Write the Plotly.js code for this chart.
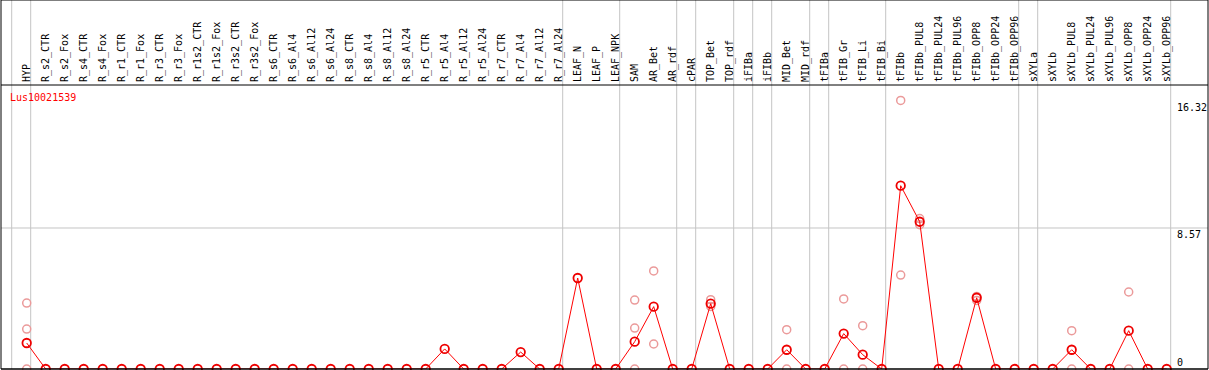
<!DOCTYPE html>
<html>
<head>
<meta charset="utf-8">
<script src="https://cdn.plot.ly/plotly-3.0.1.min.js"></script>
<style>html,body{margin:0;padding:0;background:#fff;}#chart{width:1209px;height:370px;}</style>
</head>
<body>
<div id="chart"></div>
<script>
// ---- data ----
const geneName = 'Lus10021539';
const categories = ['HYP','R_s2_CTR','R_s2_Fox','R_s4_CTR','R_s4_Fox','R_r1_CTR','R_r1_Fox','R_r3_CTR','R_r3_Fox',
  'R_r1s2_CTR','R_r1s2_Fox','R_r3s2_CTR','R_r3s2_Fox','R_s6_CTR','R_s6_Al4','R_s6_Al12','R_s6_Al24',
  'R_s8_CTR','R_s8_Al4','R_s8_Al12','R_s8_Al24','R_r5_CTR','R_r5_Al4','R_r5_Al12','R_r5_Al24',
  'R_r7_CTR','R_r7_Al4','R_r7_Al12','R_r7_Al24','LEAF_N','LEAF_P','LEAF_NPK','SAM','AR_Bet','AR_rdf',
  'cPAR','TOP_Bet','TOP_rdf','iFIBa','iFIBb','MID_Bet','MID_rdf','tFIBa','tFIB_Gr','tFIB_Li','tFIB_Bi',
  'tFIBb','tFIBb_PUL8','tFIBb_PUL24','tFIBb_PUL96','tFIBb_OPP8','tFIBb_OPP24','tFIBb_OPP96',
  'sXYLa','sXYLb','sXYLb_PUL8','sXYLb_PUL24','sXYLb_PUL96','sXYLb_OPP8','sXYLb_OPP24','sXYLb_OPP96'];
const meanValues = [1.58,
  0,0,0,0,0,0,0,0,0,0,0,0,0,0,0,0,0,0,0,0,0,1.22,0,0,0,1.03,0,0,
  5.53,0,0,
  1.66,3.79,0,
  0,
  3.97,0,
  0,0,
  1.17,0,
  0,
  2.15,0.87,0,
  11.14,8.95,0,0,4.33,0,0,
  0,
  0,1.17,0,0,2.33,0,0];
const replicateCats = ['HYP','HYP','HYP','SAM','SAM','SAM','AR_Bet','AR_Bet','TOP_Bet','TOP_Bet',
  'MID_Bet','MID_Bet','tFIB_Gr','tFIB_Gr','tFIB_Li','tFIB_Li','tFIBb','tFIBb',
  'tFIBb_PUL8','tFIBb_PUL8','tFIBb_OPP8','tFIBb_OPP8','sXYLb_PUL8','sXYLb_PUL8','sXYLb_OPP8','sXYLb_OPP8'];
const replicateValues = [4.01,2.43,0,4.19,2.49,0,5.96,1.52,4.21,3.80,
  2.39,0,4.26,0,2.63,0,16.32,5.71,
  9.14,8.77,4.41,4.17,2.33,0,4.68,0];
const groupSizes = [1,28,3,3,1,2,1,1,2,1,3,7,1,7];
const yTickVals = [0, 8.57, 16.32];
const yTickText = ['0', '8.57', '16.32'];

// ---- layout helpers ----
const W = 1209, H = 370, T = 85, B = 1, L = 1, R = 35;
const plotW = W - L - R, plotH = H - T - B;
const pxPerUnitX = 19, firstCatPx = 26.7;
const xMin = -(firstCatPx - L) / pxPerUnitX;
const xMax = xMin + plotW / pxPerUnitX;
const yMax = 17.26;
const topPaper = 1 + T / plotH;
const rightPaper = (1208 - L) / plotW;
const gray = '#c4c4c4';
const mono = 'DejaVu Sans Mono';
const catIndex = c => categories.indexOf(c);

const shapes = [];
// group separators
let acc = -1;
const seps = [acc];
groupSizes.forEach(s => { acc += s; seps.push(acc); });
seps.forEach(i => shapes.push({type:'line', xref:'x', yref:'paper', x0:i+0.21, x1:i+0.21, y0:0, y1:topPaper,
  line:{color:gray, width:1}, layer:'below'}));
// horizontal grid line at middle tick
shapes.push({type:'line', xref:'paper', yref:'y', x0:0, x1:rightPaper, y0:yTickVals[1], y1:yTickVals[1], line:{color:gray, width:1}, layer:'below'});
// frame
shapes.push({type:'line', xref:'paper', yref:'paper', x0:0, x1:0, y0:0, y1:topPaper, line:{color:'black', width:1}, layer:'above'});
shapes.push({type:'line', xref:'paper', yref:'paper', x0:rightPaper, x1:rightPaper, y0:0, y1:topPaper, line:{color:'black', width:1}, layer:'above'});
shapes.push({type:'line', xref:'paper', yref:'paper', x0:0, x1:rightPaper, y0:topPaper, y1:topPaper, line:{color:'black', width:1}, layer:'above'});
shapes.push({type:'line', xref:'paper', yref:'paper', x0:0, x1:rightPaper, y0:1, y1:1, line:{color:'black', width:1}, layer:'above'});
shapes.push({type:'line', xref:'paper', yref:'paper', x0:0, x1:rightPaper, y0:0, y1:0, line:{color:'black', width:1.5}, layer:'above'});

const traces = [
  {type:'scatter', mode:'markers', x:replicateCats.map(catIndex), y:replicateValues, cliponaxis:false,
   marker:{symbol:'circle-open', size:8, color:'#eb9a9a', line:{width:1.5, color:'#eb9a9a'}}, hoverinfo:'y'},
  {type:'scatter', mode:'lines+markers', x:categories.map(catIndex), y:meanValues, cliponaxis:false,
   line:{color:'#ff0000', width:1},
   marker:{symbol:'circle-open', size:8.5, color:'#ee0000', line:{width:1.8, color:'#ee0000'}}, hoverinfo:'y'},
  {type:'scatter', mode:'markers', x:[0], y:[0], yaxis:'y2', hoverinfo:'skip', marker:{opacity:0}}
];

const layout = {
  width:W, height:H,
  margin:{l:L, r:R, t:T, b:B, pad:0},
  paper_bgcolor:'white', plot_bgcolor:'white',
  showlegend:false,
  title:{text:geneName, xref:'container', yref:'container', x:10/W, xanchor:'left', y:1-97/H, yanchor:'middle',
    font:{family:mono, size:10, color:'#ff0000'}},
  xaxis:{type:'linear', range:[xMin, xMax], tickmode:'array',
    tickvals:categories.map(catIndex), ticktext:categories,
    side:'top', tickangle:-90, ticks:'', ticklabelstandoff:2, showgrid:false, zeroline:false, showline:false,
    tickfont:{family:mono, size:10, color:'black'}, fixedrange:true},
  yaxis:{range:[0, yMax], tickmode:'array', tickvals:yTickVals.slice(1), ticktext:yTickText.slice(1),
    side:'right', ticklabelposition:'outside bottom', ticks:'', ticklabelstandoff:2,
    showgrid:false, zeroline:false, showline:false, tickfont:{family:mono, size:10, color:'black'}, fixedrange:true},
  yaxis2:{range:[0, yMax], tickmode:'array', tickvals:yTickVals.slice(0,1), ticktext:yTickText.slice(0,1), overlaying:'y',
    side:'right', ticklabelposition:'outside top', ticks:'', ticklabelstandoff:2,
    showgrid:false, zeroline:false, showline:false, tickfont:{family:mono, size:10, color:'black'}, fixedrange:true},
  shapes:shapes
};

Plotly.newPlot('chart', traces, layout, {staticPlot:true, displayModeBar:false});
</script>
</body>
</html>
